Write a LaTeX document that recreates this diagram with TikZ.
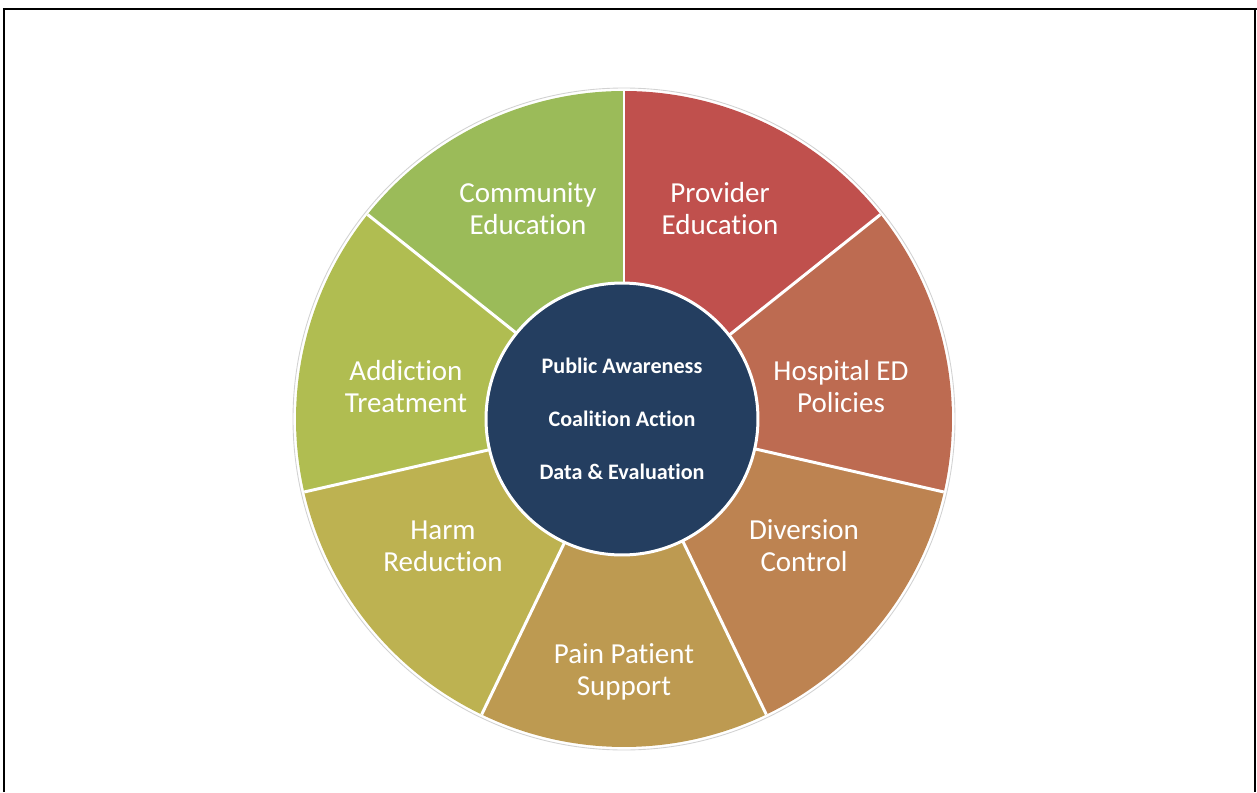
\documentclass[tikz,border=0pt]{standalone}
\usepackage{fontspec}
\setmainfont[Ligatures=NoCommon]{Carlito}
\usetikzlibrary{positioning,calc}

\definecolor{provider}{RGB}{192,80,77}
\definecolor{hospital}{RGB}{189,107,81}
\definecolor{diversion}{RGB}{189,131,81}
\definecolor{pain}{RGB}{189,154,81}
\definecolor{harm}{RGB}{189,178,81}
\definecolor{addiction}{RGB}{176,189,81}
\definecolor{community}{RGB}{155,187,89}
\definecolor{navy}{RGB}{36,62,96}

\begin{document}
\begin{tikzpicture}
  [x=0.02cm,y=0.02cm,
   seglabel/.style={align=center,text=white,font=\fontsize{16.5}{18.2}\selectfont},
   hublabel/.style={text=white,font=\bfseries\fontsize{12.6}{14}\selectfont},
   hub/.style={circle,fill=navy,draw=white,line width=1.7pt,minimum size=5.44cm,inner sep=0pt}]

  \useasboundingbox (-624,-373) rectangle (633,419);
  \draw[line width=1.1pt] (-620,-373) -- (-620,410);
  \draw[line width=1.7pt] (-621,410) -- (633,410);
  \draw[line width=0.6pt] (631,410) -- (631,-373);

  \coordinate (O) at (0,0);
  \draw[gray!35,line width=0.5pt] (O) circle[radius=331];
  \foreach \col [count=\i from 0] in {provider,hospital,diversion,pain,harm,addiction,community}
    \fill[\col] (O) -- ({90-\i*360/7}:328) arc[start angle={90-\i*360/7}, end angle={90-(\i+1)*360/7}, radius=328] -- cycle;
  \foreach \i in {0,...,6}
    \draw[white,line width=1.7pt] (O) -- ({90-\i*360/7}:328);

  \node[seglabel] (provider) at (96,210) {Provider\\Education};
  \node[seglabel] (hospital) at (217,32) {Hospital ED\\Policies};
  \node[seglabel] (diversion) at (180,-127) {Diversion\\Control};
  \node[seglabel] (pain) at (0,-253) {Pain Patient\\Support};
  \node[seglabel] (harm) at (-181,-127) {Harm\\Reduction};
  \node[seglabel] (addiction) at (-218,32) {Addiction\\Treatment};
  \node[seglabel] (community) at (-96,210) {Community\\Education};

  \node[hub] (hub) at (-2,0) {};
  \node[hublabel] (aware) at ($(hub)+(0,53)$) {Public Awareness};
  \node[hublabel] (coalition) at (hub) {Coalition Action};
  \node[hublabel] (data) at ($(hub)+(0,-53)$) {Data \& Evaluation};
\end{tikzpicture}
\end{document}
